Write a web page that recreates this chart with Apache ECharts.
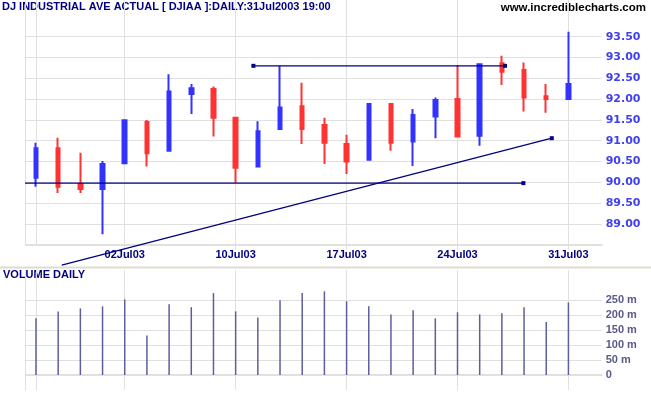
<!DOCTYPE html>
<html><head><meta charset="utf-8">
<script src="https://cdn.jsdelivr.net/npm/echarts@6/dist/echarts.min.js"></script>
<style>html,body{margin:0;padding:0;background:#fff}#c{width:651px;height:395px}</style>
</head><body><div id="c"></div>
<script>
// ---- data ----
const days = ['26Jun03','27Jun03','30Jun03','01Jul03','02Jul03','03Jul03','07Jul03','08Jul03','09Jul03','10Jul03','11Jul03','14Jul03','15Jul03','16Jul03','17Jul03','18Jul03','21Jul03','22Jul03','23Jul03','24Jul03','25Jul03','28Jul03','29Jul03','30Jul03','31Jul03'];
const tickDays = ['02Jul03','10Jul03','17Jul03','24Jul03','31Jul03'];
const openP  = [90.11,90.82,89.96,89.84,90.46,91.45,90.76,92.12,92.24,91.55,90.38,91.28,91.83,91.38,90.92,90.54,91.88,90.98,91.58,92.00,91.12,92.86,92.70,92.07,92.00];
const closeP = [90.82,89.89,89.84,90.44,91.49,90.70,92.18,92.26,91.55,90.35,91.23,91.80,91.28,90.95,90.50,91.88,90.95,91.62,91.98,91.10,92.84,92.66,92.04,92.00,92.36];
const lowP   = [89.89,89.74,89.74,88.75,90.46,90.38,90.76,91.64,91.10,89.99,90.38,91.28,90.92,90.44,90.20,90.54,90.76,90.39,91.06,91.08,90.88,92.34,91.70,91.67,92.00];
const highP  = [90.95,91.07,90.71,90.51,91.50,91.50,92.60,92.36,92.30,91.55,91.47,92.80,92.39,91.55,91.14,91.88,91.88,91.76,92.04,92.82,92.85,93.04,92.88,92.36,93.62];
const volumeM = [189,212,222,229,252,132,236,226,273,212,192,249,273,279,246,229,202,216,189,209,202,206,226,177,242];
const priceLevels = [89.0,89.5,90.0,90.5,91.0,91.5,92.0,92.5,93.0,93.5];
const volumeLevels = [0,50,100,150,200,250];
// drawn lines: [day index position, price]
const supportLine = [[-1.62,89.98],[21.97,89.98]];
const resistanceLine = [[9.80,92.80],[21.14,92.80]];
const trendLine = [[1.16,88.01],[23.25,91.06]];

// ---- chart ----
const X_MIN = -0.464, X_MAX = 25.5;
const G = '#e0e0e0', T = 'rgba(0,0,0,0)';
const tickIdx = tickDays.map(d => days.indexOf(d));
const candles = days.map((d,i) => [i, openP[i], closeP[i], lowP[i], highP[i]]);
const vols = volumeM.map((v,i) => [i, v]);

function lineData(pts, marks) {
  return pts.map((p,i) => ({value: p, symbol: marks[i] ? 'rect' : 'none', symbolSize: 4}));
}
const navyLine = {type:'line', xAxisIndex:0, yAxisIndex:0, clip:false, z:5, showSymbol:true,
  lineStyle:{color:'#000080', width:1.2}, itemStyle:{color:'#000080'}, silent:true};

const priceSplitColors = [];
for (let v = 88.5; v <= 94.01; v += 0.5) {
  priceSplitColors.push(priceLevels.some(p => Math.abs(p - v) < 1e-6) || Math.abs(v-88.5)<1e-6 ? G : T);
}
const volSplitColors = [];
for (let v = -50; v <= 350; v += 50) volSplitColors.push(volumeLevels.indexOf(v) >= 0 ? G : T);

const chart = echarts.init(document.getElementById('c'), null, {renderer:'canvas'});
chart.setOption({
  animation:false,
  backgroundColor:'#fff',
  grid:[
    {left:25.7, right:49.3, top:0, height:244.7},
    {left:25.7, right:49.3, top:270, height:120}
  ],
  xAxis:[
    {type:'value', gridIndex:0, min:X_MIN, max:X_MAX,
     axisLine:{show:true, lineStyle:{color:G, width:2}},
     axisTick:{show:true, length:5, customValues:tickIdx, lineStyle:{color:G}},
     axisLabel:{customValues:tickIdx, formatter:v => days[Math.round(v)], color:'#000080',
       fontFamily:'"Liberation Sans", Arial', fontWeight:'bold', fontSize:11, margin:5},
     splitLine:{show:true, lineStyle:{color:G, width:1}}},
    {type:'value', gridIndex:1, min:X_MIN, max:X_MAX, offset:-5,
     axisLine:{show:true, lineStyle:{color:G, width:2}},
     axisTick:{show:true, length:5, customValues:tickIdx, lineStyle:{color:G}},
     axisLabel:{show:false, customValues:tickIdx},
     splitLine:{show:true, lineStyle:{color:G, width:1}}}
  ],
  yAxis:[
    {type:'value', gridIndex:0, position:'right', min:88.5, max:94.382, interval:0.5,
     axisLine:{show:true, lineStyle:{color:G}}, axisTick:{show:false},
     axisLabel:{formatter:v => priceLevels.some(p => Math.abs(p-v)<1e-6) ? v.toFixed(2) : '',
       color:'#4040f0', fontFamily:'"DejaVu Sans"', fontWeight:'bold', fontSize:11, margin:4},
     splitLine:{show:true, showMaxLine:false, lineStyle:{color:priceSplitColors, width:1}}},
    {type:'value', gridIndex:0, position:'left', min:88.5, max:94.382,
     axisLine:{show:true, lineStyle:{color:G}}, axisTick:{show:false}, axisLabel:{show:false}, splitLine:{show:false}},
    {type:'value', gridIndex:1, position:'right', min:-50, max:350, interval:50,
     axisLine:{show:true, lineStyle:{color:G}}, axisTick:{show:false},
     axisLabel:{formatter:v => volumeLevels.indexOf(v) < 0 ? '' : (v === 0 ? '0' : v + ' m'),
       color:'#5a5a8a', fontFamily:'"Liberation Sans", Arial', fontWeight:'bold', fontSize:11, margin:4},
     splitLine:{show:true, lineStyle:{color:volSplitColors, width:1}}},
    {type:'value', gridIndex:1, position:'left', min:-50, max:350,
     axisLine:{show:true, lineStyle:{color:G}}, axisTick:{show:false}, axisLabel:{show:false}, splitLine:{show:false}}
  ],
  series:[
    {type:'candlestick', xAxisIndex:0, yAxisIndex:0, data:candles, barWidth:4,
     itemStyle:{color:'#3333ff', color0:'#ff3333', borderColor:'#3333ff', borderColor0:'#ff3333', borderWidth:2}},
    Object.assign({}, navyLine, {data:lineData(supportLine,[false,true])}),
    Object.assign({}, navyLine, {data:lineData(resistanceLine,[true,true])}),
    Object.assign({}, navyLine, {data:lineData(trendLine,[false,true])}),
    {type:'bar', xAxisIndex:1, yAxisIndex:2, data:vols, barWidth:1.5, itemStyle:{color:'#5e5e9e'}}
  ],
  graphic:[
    {type:'rect', shape:{x:0, y:266.5, width:651, height:2}, style:{fill:'#dedcd0'}, silent:true},
    {type:'text', style:{text:'DJ INDUSTRIAL AVE ACTUAL [ DJIAA ]:DAILY:31Jul2003 19:00', x:2, y:7,
      align:'left', verticalAlign:'middle', font:'bold 11px "Liberation Sans", Arial', fill:'#000080'}},
    {type:'text', style:{text:'www.incrediblecharts.com', x:646, y:8,
      align:'right', verticalAlign:'middle', font:'bold 11.5px "Liberation Sans", Arial', fill:'#000000'}},
    {type:'text', style:{text:'VOLUME DAILY', x:3, y:275,
      align:'left', verticalAlign:'middle', font:'bold 11px "Liberation Sans", Arial', fill:'#000080'}}
  ]
});
</script>
</body></html>
